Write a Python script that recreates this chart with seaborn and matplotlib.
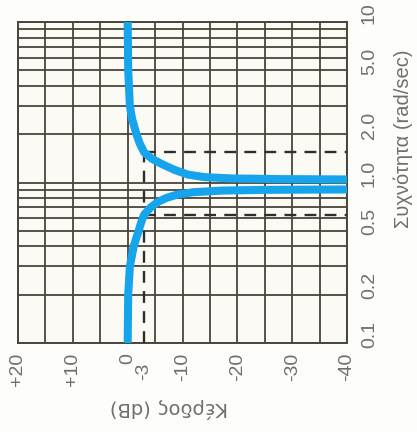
import numpy as np
import pandas as pd
import matplotlib
matplotlib.use("Agg")
import matplotlib.pyplot as plt
import matplotlib.transforms as mtransforms
import seaborn as sns

# Απόκριση πλάτους φίλτρου αποκοπής (notch) - τιμές από το σχήμα
freq_high = [10, 5, 3, 2.5, 2, 1.75, 1.54, 1.4, 1.3, 1.2, 1.12, 1.08, 1.06, 1.05, 1.045]
gain_high = [0, -0.1, -0.4, -0.8, -1.6, -2.2, -3, -4.5, -6.3, -8.5, -11, -14, -19, -28, -40]

freq_low = [0.1, 0.2, 0.3, 0.4, 0.5, 0.57, 0.63, 0.7, 0.76, 0.8, 0.84, 0.87, 0.89, 0.9, 0.905]
gain_low = [0, -0.1, -0.4, -1.1, -2.0, -2.5, -3, -4.2, -5.6, -7, -9, -12, -17, -25, -40]

# σημεία -3 dB
cut_gain = -3
f_cut_low = 0.63
f_cut_high = 1.54

gain_ticks = [20, 10, 0, -3, -10, -20, -30, -40]
gain_labels = ["+20", "+10", "0", "-3", "-10", "-20", "-30", "-40"]
gain_grid = list(range(20, -45, -5))
freq_ticks = [0.1, 0.2, 0.5, 1, 2, 5, 10]
freq_labels = ["0.1", "0.2", "0.5", "1.0", "2.0", "5.0", "10"]

df = pd.DataFrame({
    "freq": freq_high + freq_low,
    "gain": gain_high + gain_low,
    "branch": ["high"] * len(freq_high) + ["low"] * len(freq_low),
})

sns.set_theme(style="white")
plt.rcParams["font.family"] = ["Liberation Sans", "DejaVu Sans"]

grid_col = "#4a4539"
text_col = "#6e6e6e"

fig = plt.figure(figsize=(4.17, 4.32), dpi=100)
fig.patch.set_facecolor("#fdfdfc")
ax = fig.add_axes([18 / 417, 1 - 343 / 432, 329 / 417, 321 / 432])
ax.set_facecolor("#fcfaf5")

# διακεκομμένες γραμμές -3 dB
dash = dict(color="#2e2e2e", lw=1.7, ls=(0, (5, 3.5)), zorder=3)
ax.plot([cut_gain, cut_gain], [0.1, f_cut_high], **dash)
ax.plot([cut_gain, -40], [f_cut_high, f_cut_high], **dash)
ax.plot([cut_gain, -40], [f_cut_low, f_cut_low], **dash)

sns.lineplot(data=df, x="gain", y="freq", units="branch", estimator=None,
             sort=False, color="#16a5ec", lw=5.8, ax=ax, zorder=4,
             solid_capstyle="butt")

ax.set_yscale("log")
ax.set_xlim(20, -40)
ax.set_ylim(0.1, 10)

# άξονες και πλέγμα
ax.set_xticks(gain_ticks, labels=gain_labels)
ax.set_xticks(gain_grid, minor=True)
minor_f = [m * d for d in [0.1, 1] for m in range(1, 10)] + [10]
ax.set_yticks(freq_ticks, labels=freq_labels)
ax.set_yticks(minor_f, minor=True)
ax.xaxis.remove_overlapping_locs = False
ax.yaxis.remove_overlapping_locs = False
ax.yaxis.set_minor_formatter(plt.NullFormatter())
ax.xaxis.set_minor_formatter(plt.NullFormatter())
ax.grid(False)
ax.grid(True, axis="x", which="minor", color=grid_col, lw=1.3)
ax.grid(True, axis="y", which="minor", color=grid_col, lw=1.3)
ax.set_axisbelow(True)

for s in ax.spines.values():
    s.set_color(grid_col)
    s.set_linewidth(1.4)

ax.yaxis.tick_right()
ax.tick_params(axis="both", which="both", length=0)
ax.tick_params(axis="x", which="major", labelsize=14, labelcolor=text_col,
               labelrotation=90, pad=7)
ax.tick_params(axis="y", which="major", labelsize=14, labelcolor=text_col,
               labelrotation=90, pad=10, labelright=True, labelleft=False)

ax.set_xlabel("Κέρδος (dB)", rotation=180, fontsize=14, color=text_col,
              family=["DejaVu Sans"])
ax.xaxis.set_label_coords(0.46, -0.17)
ax.yaxis.set_label_position("right")
ax.set_ylabel("Συχνότητα (rad/sec)", rotation=90, fontsize=14.5, color=text_col)
ax.yaxis.label.set_ha("center")
ax.yaxis.set_label_coords(1.14, 0.635)

fig.canvas.draw()
for lab in ax.get_yticklabels():
    lab.set_va("center")
    lab.set_transform(lab.get_transform() +
                      mtransforms.ScaledTranslation(0, 0.09, fig.dpi_scale_trans))
# η ετικέτα -3 είναι λίγο χαμηλότερα
for lab in ax.get_xticklabels():
    if lab.get_text() == "-3":
        lab.set_transform(lab.get_transform() +
                          mtransforms.ScaledTranslation(0, -0.1, fig.dpi_scale_trans))

fig.savefig("out.png", dpi=100, facecolor=fig.get_facecolor())
